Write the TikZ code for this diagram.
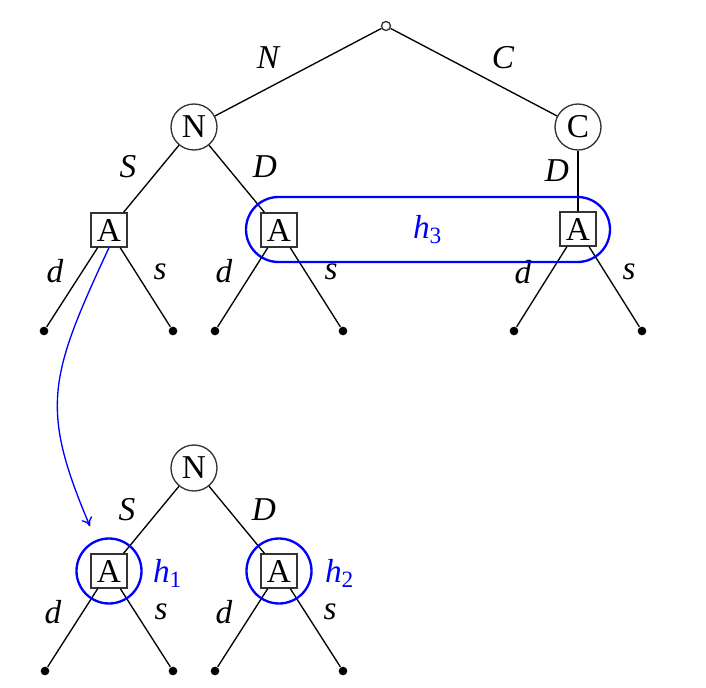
\documentclass[tikz,border=0pt]{standalone}
\usepackage{fontspec}
\setmainfont{Liberation Serif}
\usetikzlibrary{positioning,arrows.meta}

\tikzset{
    chance/.style={circle,draw=black!80,inner sep=0pt,minimum size=13.8pt},
    actor/.style={rectangle,draw=black!80,inner sep=0pt,minimum width=10.8pt,minimum height=10.2pt},
    leaf/.style={circle,fill=black,inner sep=0pt,minimum size=2.6pt},
    rootnode/.style={circle,draw=black!80,inner sep=0pt,minimum size=2.7pt},
    infoset/.style={draw=blue,line width=0.7pt,text=blue,inner sep=0pt},
    move/.style={font=\itshape}
}

\begin{document}
\begin{tikzpicture}[x=0.3pt,y=-0.3pt,line width=0.4pt]
        \useasboundingbox (0,0) rectangle (706,688);

        % upper tree
        \node[rootnode] (r) at (386,26) {};
        \node[chance] (n1) at (194,127) {N};
        \node[chance] (c1) at (578,127) {C};
        \node[actor] (a1) at (109,230) {A};
        \node[actor] (a2) at (279,230) {A};
        \node[actor] (a3) at (578,229) {A};
        \node[leaf] (l1) at (44,331) {};
        \node[leaf] (l2) at (173,331) {};
        \node[leaf] (l3) at (215,331) {};
        \node[leaf] (l4) at (343,331) {};
        \node[leaf] (l5) at (514,331) {};
        \node[leaf] (l6) at (642,331) {};

        \draw (r) -- (n1);
        \draw (r) -- (c1);
        \draw (n1) -- (a1);
        \draw (n1) -- (a2);
        \draw (c1) -- (a3);
        \draw (a1) -- (l1);
        \draw (a1) -- (l2);
        \draw (a2) -- (l3);
        \draw (a2) -- (l4);
        \draw (a3) -- (l5);
        \draw (a3) -- (l6);

        \node[move] (tN) at (268,58) {N};
        \node[move] (tC) at (503,58) {C};
        \node[move] (tS1) at (128,167) {S};
        \node[move] (tD1) at (265,167) {D};
        \node[move] (tD2) at (557,171) {D};
        \node[move] (td1) at (55,271) {d};
        \node[move] (ts1) at (160,272) {s};
        \node[move] (td2) at (224,271) {d};
        \node[move] (ts2) at (331,272) {s};
        \node[move] (td3) at (523,272) {d};
        \node[move] (ts3) at (629,272) {s};

        % lower tree
        \node[chance] (n2) at (194,468) {N};
        \node[actor] (b1) at (109,571) {A};
        \node[actor] (b2) at (279,571) {A};
        \node[leaf] (m1) at (45,671) {};
        \node[leaf] (m2) at (173,671) {};
        \node[leaf] (m3) at (215,671) {};
        \node[leaf] (m4) at (343,671) {};

        \draw (n2) -- (b1);
        \draw (n2) -- (b2);
        \draw (b1) -- (m1);
        \draw (b1) -- (m2);
        \draw (b2) -- (m3);
        \draw (b2) -- (m4);

        \node[move] (tS3) at (127,510) {S};
        \node[move] (tD3) at (264,510) {D};
        \node[move] (td4) at (53,612) {d};
        \node[move] (ts4) at (161,612) {s};
        \node[move] (td5) at (224,612) {d};
        \node[move] (ts5) at (330,612) {s};

        % information sets
        \node[infoset,rounded corners=9.75pt,minimum width=109.2pt,minimum height=19.5pt] (h3) at (428,229.5) {\textit{h}\textsubscript{3}};
        \node[infoset,circle,minimum size=19.5pt] (i1) at (109,571) {};
        \node[infoset,circle,minimum size=19.5pt] (i2) at (279,571) {};
        \node[text=blue] (th1) at (168,573) {\textit{h}\textsubscript{1}};
        \node[text=blue] (th2) at (340,573) {\textit{h}\textsubscript{2}};

        \draw[-{To[length=2.6pt,width=3.4pt]},blue,shorten >=4.5pt] (a1.south) to[out=-115,in=113,looseness=1.25] (i1);
    \end{tikzpicture}
\end{document}
